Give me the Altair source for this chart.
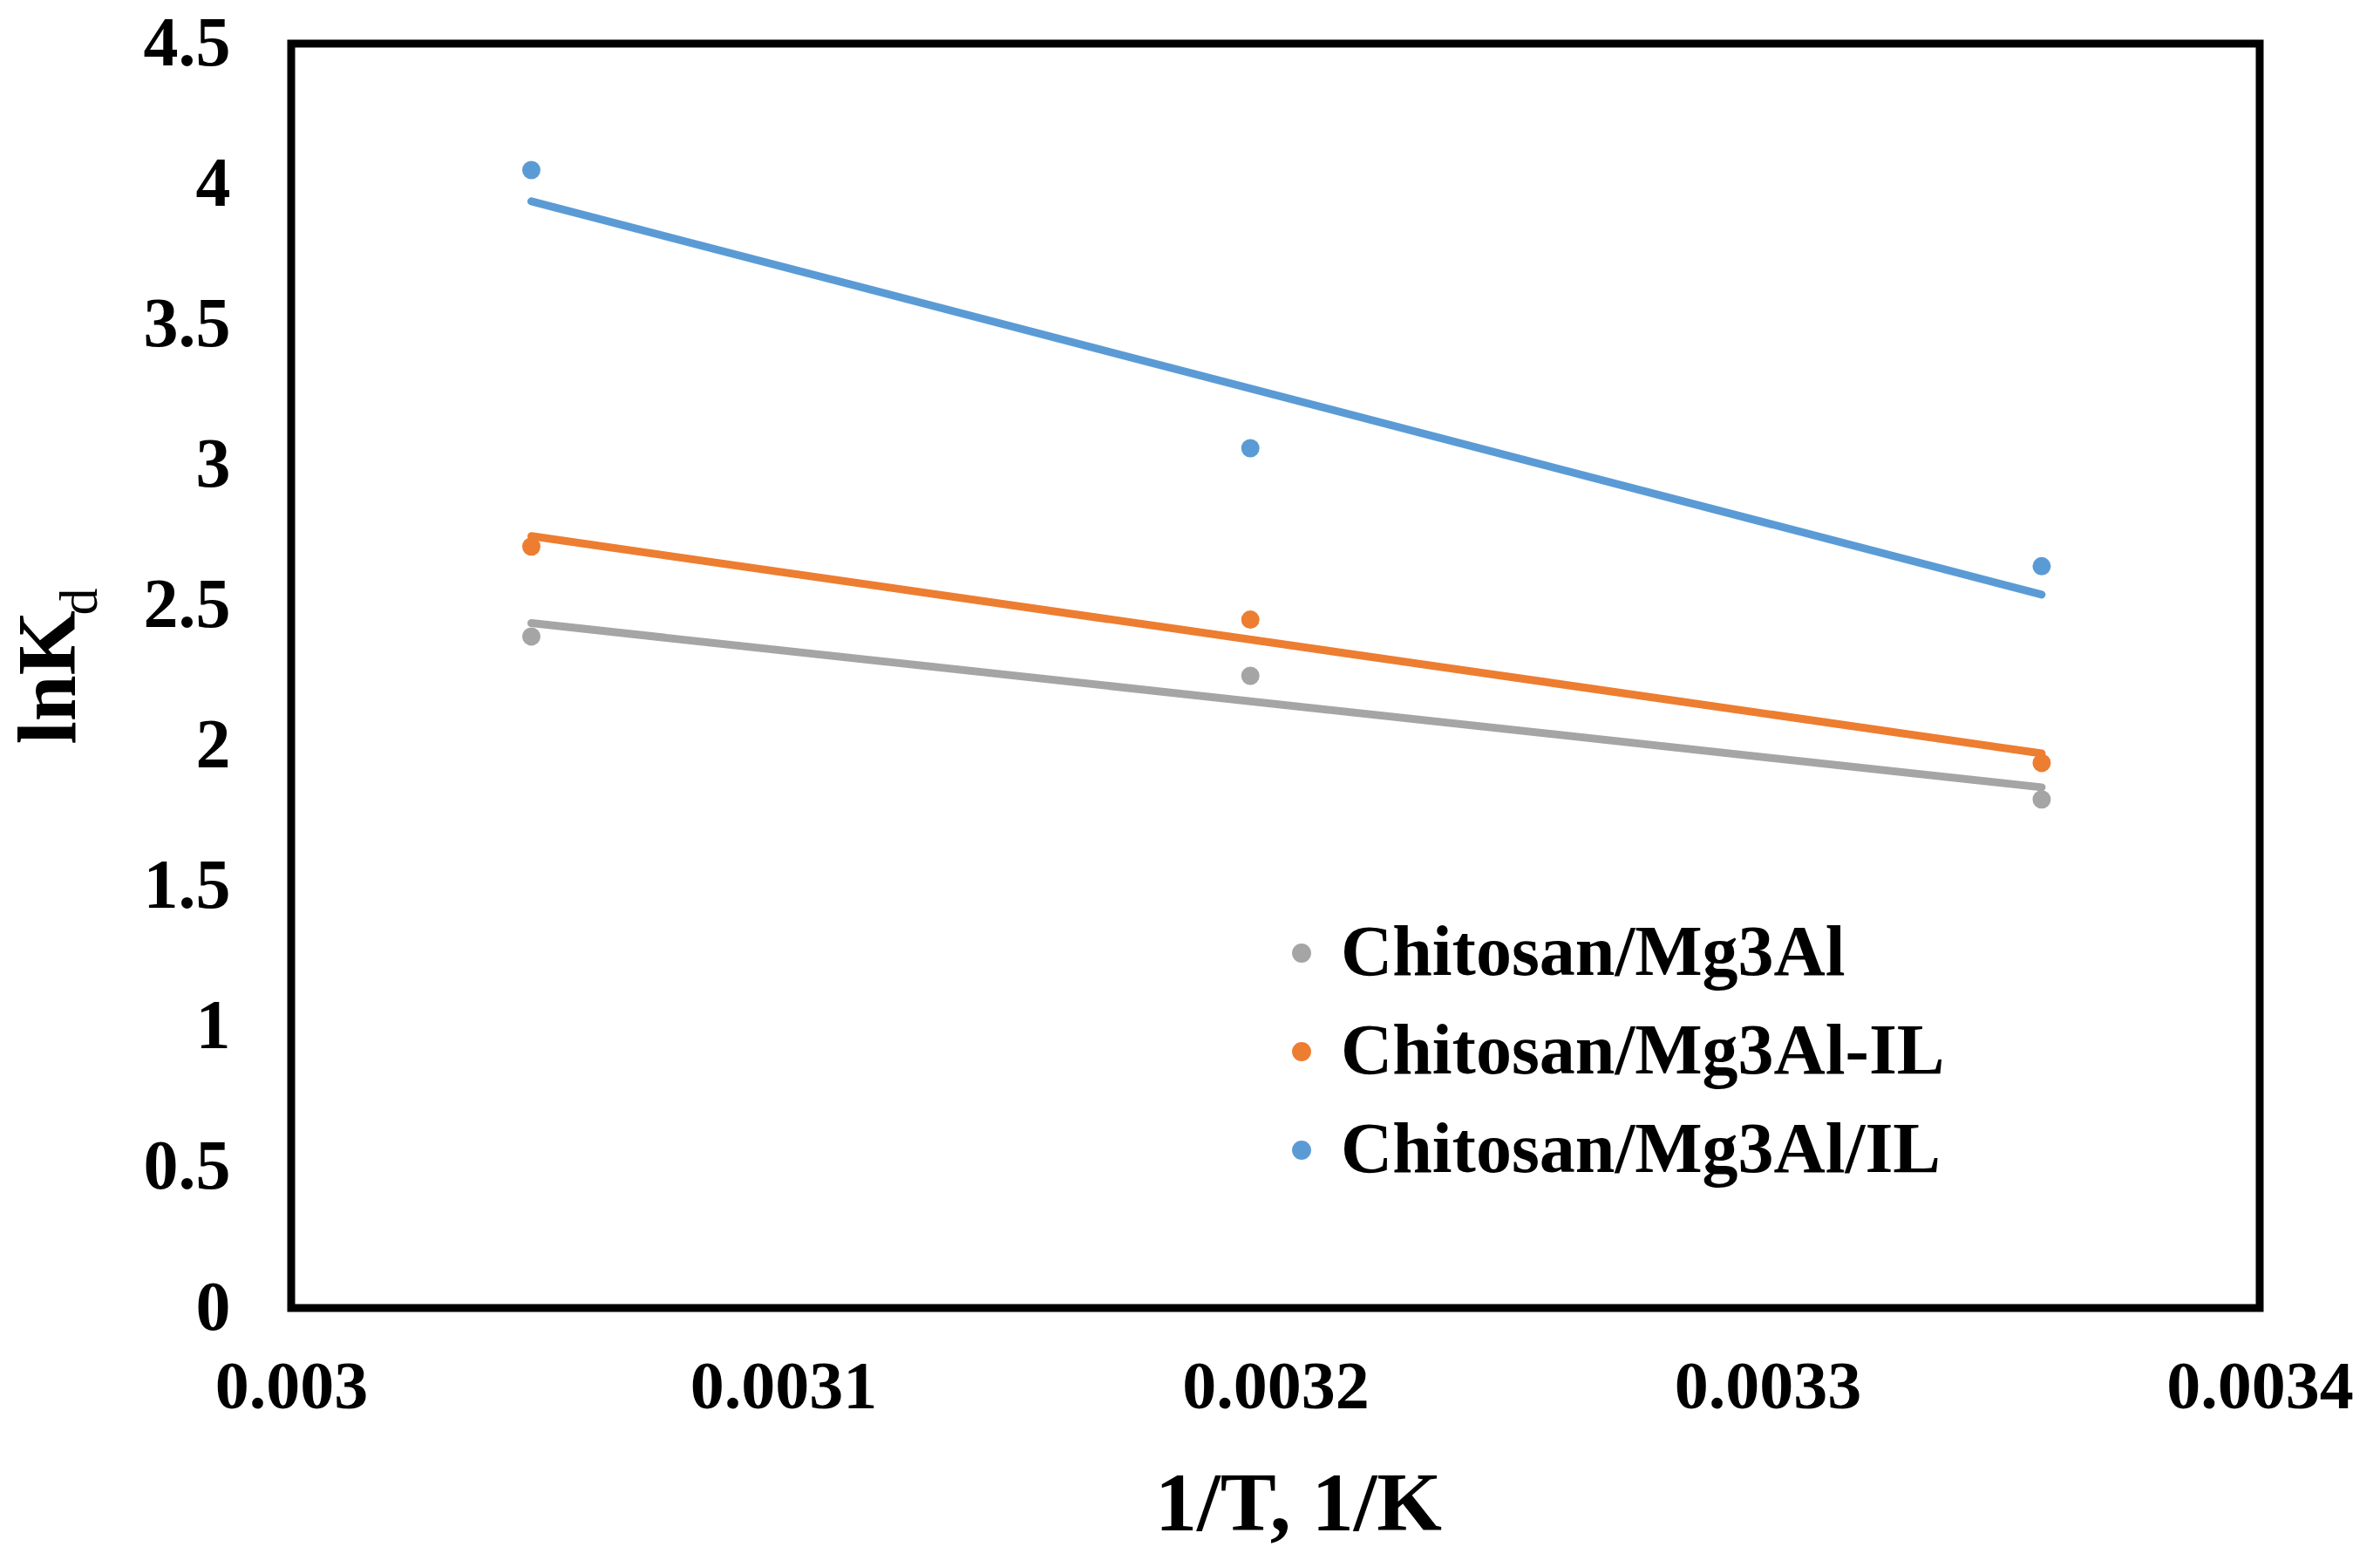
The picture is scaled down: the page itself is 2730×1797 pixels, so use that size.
import altair as alt
import pandas as pd

inv_T = [0.0030488, 0.0031949, 0.0033557]
series_names = ["Chitosan/Mg3Al", "Chitosan/Mg3Al-IL", "Chitosan/Mg3Al/IL"]
lnkd_gray = [2.39, 2.25, 1.81]
lnkd_orange = [2.71, 2.45, 1.94]
lnkd_blue = [4.05, 3.06, 2.64]
colors = ["#A5A5A5", "#ED7D31", "#5B9BD5"]
x_ticks = [0.003, 0.0031, 0.0032, 0.0033, 0.0034]
y_ticks = [0, 0.5, 1, 1.5, 2, 2.5, 3, 3.5, 4, 4.5]

rows = []
for name, vals in zip(series_names, [lnkd_gray, lnkd_orange, lnkd_blue]):
    for xv, yv in zip(inv_T, vals):
        rows.append({"x": xv, "y": yv, "series": name})
df = pd.DataFrame(rows)

FONT = "Liberation Serif"

xenc = alt.X("x:Q", scale=alt.Scale(domain=[0.003, 0.0034], nice=False),
             axis=alt.Axis(values=x_ticks, format="~g", title="1/T, 1/K",
                           labelFont=FONT, labelFontSize=78, labelFontWeight="bold",
                           labelPadding=52, labelLimit=0, labelFlush=False,
                           titleFont=FONT, titleFontSize=96, titleX=1155, titleAlign="center",
                           titleFontWeight="bold", titlePadding=48, ticks=False,
                           domain=False, grid=False, labelColor="black", titleColor="black"))
yenc = alt.Y("y:Q", scale=alt.Scale(domain=[0, 4.5], nice=False),
             axis=alt.Axis(values=y_ticks, format="~g", title=None,
                           labelFont=FONT, labelFontSize=80, labelFontWeight="bold",
                           labelPadding=70, labelLimit=0, labelFlush=False, ticks=False,
                           domain=False, grid=False, labelColor="black"))
cscale = alt.Scale(domain=series_names, range=colors)

lines = alt.Chart(df).transform_regression(
    "x", "y", groupby=["series"]
).mark_line(strokeWidth=9, strokeCap="round").encode(
    x=xenc, y=yenc,
    color=alt.Color("series:N", scale=cscale, legend=None),
)

points = alt.Chart(df).mark_circle(size=440, opacity=1).encode(
    x=xenc, y=yenc,
    color=alt.Color("series:N", scale=cscale,
                    legend=alt.Legend(title=None, orient="none", legendX=1118, legendY=1002,
                                      labelFont=FONT, labelFontSize=82, labelFontWeight="bold",
                                      labelColor="black", labelLimit=0, symbolType="circle",
                                      symbolSize=480, symbolOpacity=1, rowPadding=31,
                                      labelOffset=4, padding=0)),
)

one = alt.Data(values=[{"a": 1}])
ytitle = alt.Chart(one).mark_text(text="lnK", angle=270, font=FONT, fontSize=95,
                                   fontWeight="bold", align="center", baseline="middle",
                                   color="black").encode(x=alt.value(-277), y=alt.value(727))
ysub = alt.Chart(one).mark_text(text="d", angle=270, font=FONT, fontSize=62,
                                 fontWeight="normal", align="center", baseline="middle",
                                 color="black").encode(x=alt.value(-242), y=alt.value(640))

chart = alt.layer(lines, points, ytitle, ysub).resolve_scale(
    color="independent"
).properties(
    width=2258, height=1450,
    autosize=alt.AutoSizeParams(type="none"),
    padding={"left": 326, "top": 42, "right": 120, "bottom": 280},
    background="white",
).configure_view(stroke="black", strokeWidth=9)

chart.save("out.html", embed_options={"renderer": "svg", "actions": False})
